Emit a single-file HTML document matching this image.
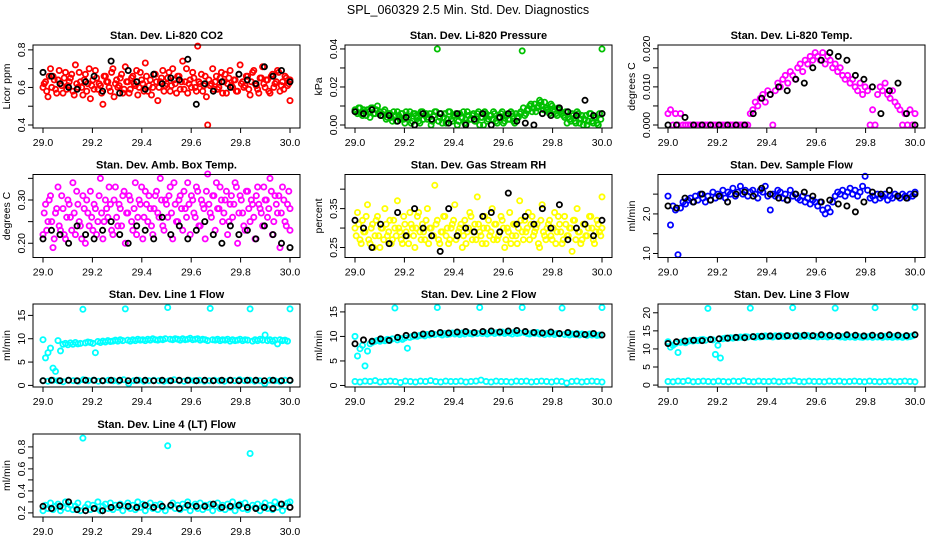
<!DOCTYPE html>
<html><head><meta charset="utf-8">
<style>
html,body{margin:0;padding:0;background:#fff;}
svg{display:block;font-family:"Liberation Sans",sans-serif;}
</style></head>
<body>
<svg id="chart" width="936" height="540" viewBox="0 0 936 540" xmlns="http://www.w3.org/2000/svg">
<rect width="936" height="540" fill="#fff"/>
<text x="468" y="14" text-anchor="middle" font-size="12.5">SPL_060329  2.5 Min. Std. Dev. Diagnostics</text>
</svg>
<script>
const xTicks = [29.0, 29.2, 29.4, 29.6, 29.8, 30.0];
const xTickLabels = ["29.0", "29.2", "29.4", "29.6", "29.8", "30.0"];

const co2Red = [0.60,0.63,0.55,0.70,0.66,0.59,0.64,0.62,0.57,0.68,0.61,0.65,0.58,0.72,0.60,0.63,0.56,0.67,0.62,0.54,0.64,0.69,0.59,0.61,0.51,0.66,0.63,0.58,0.70,0.62,0.60,0.65,0.57,0.71,0.63,0.59,0.66,0.61,0.56,0.68,0.62,0.73,0.58,0.64,0.60,0.67,0.53,0.63,0.69,0.61,0.65,0.58,0.70,0.62,0.66,0.59,0.74,0.63,0.57,0.64,0.68,0.60,0.82,0.62,0.58,0.66,0.40,0.61,0.70,0.63,0.59,0.65,0.57,0.67,0.62,0.69,0.60,0.64,0.58,0.72,0.63,0.61,0.66,0.56,0.68,0.62,0.59,0.65,0.71,0.60,0.64,0.57,0.67,0.62,0.69,0.58,0.63,0.66,0.61,0.53];
const co2Red2 = [0.62,0.58,0.66,0.60,0.64,0.57,0.69,0.61,0.65,0.59,0.63,0.67,0.56,0.62,0.68,0.60,0.64,0.58,0.70,0.61,0.59,0.65,0.62,0.57,0.66,0.63,0.60,0.68,0.55,0.64,0.61,0.67,0.59,0.63,0.57,0.65,0.62,0.69,0.60,0.64,0.58,0.66,0.61,0.56,0.67,0.63,0.60,0.65,0.58,0.62,0.68,0.61,0.64,0.57,0.66,0.63,0.59,0.70,0.62,0.60,0.65,0.58,0.63,0.67,0.61,0.55,0.64,0.62,0.59,0.66,0.60,0.68,0.63,0.57,0.65,0.61,0.64,0.58,0.67,0.62,0.60,0.66,0.59,0.63,0.69,0.61,0.57,0.65,0.62,0.64,0.58,0.66,0.60,0.63,0.68,0.61,0.59,0.65,0.62,0.64];
const co2Black = [0.68,0.66,0.62,0.60,0.59,0.63,0.66,0.58,0.74,0.57,0.69,0.63,0.59,0.67,0.62,0.65,0.64,0.75,0.51,0.62,0.58,0.63,0.60,0.67,0.64,0.62,0.71,0.66,0.69,0.63];

const presGreen = [0.008,0.006,0.009,0.005,0.007,0.008,0.004,0.009,0.006,0.010,0.007,0.005,0.008,0.004,0.006,0.002,0.005,0.007,0.003,0.006,0.001,0.005,0.007,0.002,0.006,0.004,0.001,0.007,0.005,0.003,0.006,0.002,0.007,0.040,0.004,0.001,0.006,0.003,0.007,0.002,0.005,0.000,0.006,0.004,0.001,0.007,0.003,0.005,0.002,0.006,0.000,0.004,0.007,0.002,0.005,0.003,0.006,0.001,0.004,0.007,0.002,0.005,0.003,0.006,0.001,0.004,0.006,0.039,0.005,0.008,0.010,0.007,0.011,0.009,0.013,0.010,0.012,0.008,0.006,0.010,0.007,0.005,0.008,0.006,0.004,0.001,0.003,0.006,0.002,0.007,0.001,0.005,0.003,0.000,0.006,0.002,0.004,0.001,0.006,0.040];
const presGreen2 = [0.007,0.009,0.006,0.008,0.005,0.007,0.009,0.006,0.008,0.006,0.005,0.007,0.003,0.006,0.004,0.007,0.002,0.005,0.006,0.003,0.007,0.004,0.001,0.006,0.005,0.002,0.007,0.003,0.006,0.004,0.000,0.005,0.007,0.002,0.006,0.004,0.001,0.007,0.003,0.005,0.006,0.002,0.004,0.007,0.001,0.005,0.003,0.006,0.002,0.007,0.004,0.000,0.006,0.003,0.005,0.007,0.002,0.004,0.006,0.001,0.005,0.003,0.007,0.002,0.006,0.004,0.007,0.009,0.006,0.008,0.011,0.009,0.007,0.010,0.012,0.008,0.009,0.007,0.011,0.008,0.006,0.009,0.007,0.005,0.007,0.004,0.002,0.005,0.001,0.006,0.003,0.000,0.005,0.002,0.006,0.001,0.004,0.000,0.003,0.006];
const presBlack = [0.007,0.006,0.008,0.005,0.005,0.002,0.004,0.000,0.006,0.003,0.006,0.001,0.006,0.000,0.003,0.006,0.000,0.004,0.006,0.002,0.001,0.000,0.006,0.005,0.009,0.007,0.005,0.013,0.005,0.006];

const tempMagenta = [0.003,0.004,0.000,0.003,0.000,0.003,0.000,0,0,0,0,0,0,0,0,0,0,0,0,0,0,0,0,0,0,0,0,0,0,0,0,0,0,0.003,0.004,0.006,0.005,0.007,0.008,0.006,0.009,0.008,0.000,0.009,0.011,0.010,0.012,0.013,0.011,0.014,0.013,0.012,0.015,0.016,0.014,0.017,0.016,0.018,0.017,0.019,0.018,0.017,0.019,0.016,0.018,0.017,0.015,0.016,0.014,0.015,0.013,0.012,0.013,0.011,0.012,0.010,0.009,0.011,0.008,0.010,0.009,0.000,0.004,0.000,0.008,0.010,0.009,0.011,0.008,0.007,0.009,0.006,0.005,0.004,0.000,0.003,0.000,0.004,0.000,0.003];
const tempBlack = [0.000,0.000,0.002,0.000,0.000,0.000,0.000,0.000,0.000,0.000,0.003,0.007,0.008,0.010,0.009,0.012,0.011,0.015,0.017,0.019,0.018,0.017,0.013,0.012,0.010,0.003,0.009,0.011,0.003,0.000];

const ambMagenta = [0.22,0.29,0.25,0.31,0.19,0.27,0.33,0.23,0.28,0.21,0.30,0.26,0.34,0.22,0.29,0.24,0.31,0.20,0.27,0.32,0.23,0.28,0.25,0.35,0.21,0.30,0.26,0.29,0.22,0.33,0.24,0.28,0.31,0.20,0.27,0.30,0.23,0.34,0.26,0.29,0.21,0.32,0.25,0.28,0.22,0.31,0.27,0.35,0.24,0.30,0.26,0.33,0.21,0.29,0.25,0.31,0.23,0.28,0.34,0.22,0.30,0.26,0.32,0.24,0.29,0.21,0.36,0.27,0.31,0.23,0.28,0.33,0.25,0.30,0.22,0.29,0.26,0.34,0.20,0.31,0.27,0.23,0.32,0.25,0.29,0.21,0.33,0.28,0.24,0.30,0.26,0.35,0.22,0.31,0.27,0.19,0.33,0.25,0.29,0.23];
const ambMagenta2 = [0.27,0.23,0.30,0.25,0.21,0.28,0.24,0.31,0.22,0.26,0.29,0.23,0.27,0.32,0.25,0.21,0.28,0.30,0.24,0.26,0.29,0.22,0.31,0.27,0.25,0.28,0.33,0.23,0.30,0.26,0.29,0.24,0.32,0.27,0.31,0.25,0.28,0.22,0.30,0.33,0.26,0.29,0.31,0.24,0.28,0.32,0.26,0.30,0.23,0.29,0.31,0.27,0.34,0.25,0.30,0.28,0.32,0.26,0.29,0.31,0.27,0.33,0.24,0.30,0.28,0.32,0.29,0.26,0.31,0.34,0.28,0.30,0.27,0.32,0.25,0.31,0.29,0.33,0.27,0.30,0.24,0.32,0.28,0.30,0.26,0.31,0.29,0.27,0.33,0.30,0.28,0.32,0.25,0.29,0.31,0.27,0.30,0.24,0.32,0.28];
const ambBlack = [0.21,0.23,0.22,0.20,0.24,0.22,0.21,0.23,0.25,0.22,0.20,0.24,0.23,0.21,0.26,0.22,0.24,0.21,0.23,0.25,0.22,0.20,0.24,0.22,0.23,0.21,0.24,0.22,0.20,0.19];

const rhYellow = [0.30,0.34,0.27,0.32,0.29,0.36,0.26,0.31,0.28,0.33,0.25,0.30,0.35,0.28,0.32,0.27,0.30,0.37,0.29,0.26,0.31,0.28,0.34,0.30,0.25,0.33,0.29,0.31,0.27,0.35,0.30,0.28,0.41,0.32,0.26,0.29,0.33,0.30,0.27,0.31,0.36,0.28,0.30,0.25,0.32,0.29,0.34,0.27,0.31,0.38,0.29,0.26,0.33,0.30,0.28,0.35,0.31,0.27,0.29,0.32,0.25,0.30,0.34,0.28,0.31,0.26,0.37,0.29,0.32,0.30,0.27,0.33,0.29,0.31,0.25,0.36,0.28,0.30,0.32,0.27,0.34,0.29,0.31,0.26,0.33,0.28,0.30,0.24,0.32,0.35,0.29,0.27,0.31,0.28,0.33,0.30,0.26,0.32,0.29,0.38];
const rhYellow2 = [0.28,0.31,0.26,0.29,0.33,0.27,0.30,0.25,0.32,0.28,0.30,0.27,0.31,0.29,0.26,0.32,0.28,0.30,0.27,0.33,0.29,0.26,0.31,0.28,0.30,0.34,0.27,0.29,0.32,0.26,0.30,0.28,0.31,0.27,0.29,0.33,0.28,0.26,0.30,0.32,0.27,0.29,0.31,0.28,0.26,0.30,0.33,0.29,0.27,0.31,0.28,0.30,0.26,0.32,0.29,0.27,0.31,0.28,0.33,0.30,0.27,0.29,0.26,0.31,0.28,0.30,0.32,0.27,0.29,0.34,0.31,0.28,0.30,0.26,0.32,0.29,0.27,0.31,0.28,0.30,0.26,0.33,0.29,0.27,0.31,0.28,0.30,0.32,0.27,0.29,0.26,0.31,0.28,0.30,0.33,0.27,0.29,0.31,0.28,0.30];
const rhBlack = [0.32,0.30,0.25,0.31,0.26,0.34,0.28,0.35,0.30,0.28,0.24,0.35,0.28,0.30,0.29,0.33,0.34,0.29,0.39,0.31,0.33,0.31,0.35,0.30,0.36,0.27,0.30,0.31,0.28,0.32];

const flowBlue = [2.45,1.72,2.2,2.1,0.97,2.15,2.3,2.25,2.35,2.4,2.3,2.45,2.35,2.5,2.4,2.3,2.45,2.35,2.55,2.4,2.5,2.45,2.6,2.4,2.55,2.5,2.65,2.45,2.55,2.7,2.5,2.6,2.45,2.55,2.6,2.5,2.4,2.6,2.55,2.7,2.45,2.1,2.5,2.45,2.6,2.55,2.4,2.5,2.35,2.6,2.45,2.5,2.4,2.35,2.45,2.3,2.4,2.25,2.35,2.3,2.2,2.3,2.1,2.0,2.15,2.05,2.3,2.45,2.55,2.5,2.6,2.45,2.55,2.65,2.5,2.6,2.45,2.55,2.7,2.95,2.6,2.4,2.45,2.35,2.5,2.4,2.45,2.5,2.35,2.45,2.4,2.5,2.45,2.4,2.5,2.45,2.4,2.5,2.45,2.55];
const flowBlack = [2.2,2.15,2.4,2.3,2.5,2.35,2.45,2.3,2.5,2.55,2.45,2.65,2.5,2.4,2.35,2.5,2.55,2.45,2.3,2.35,2.25,2.2,2.05,2.3,2.55,2.5,2.6,2.45,2.4,2.5];

const line1Upper = [9.8,5.9,7.0,8.0,3.7,3.0,9.6,7.4,8.8,9.0,8.7,9.1,8.8,9.2,8.9,9.0,16.3,9.1,9.3,9.2,9.0,7.0,9.4,9.2,9.5,9.3,9.6,9.4,9.5,9.7,9.5,9.8,9.6,16.4,9.7,9.5,9.8,9.6,9.9,9.7,9.8,9.6,9.9,9.7,10.0,9.8,9.7,9.9,9.8,10.0,16.7,9.9,9.8,10.0,9.9,9.7,10.0,9.8,9.9,10.1,9.8,9.9,10.0,9.7,9.9,9.8,9.6,16.5,9.8,9.7,9.9,9.6,9.8,9.7,9.9,9.5,9.8,9.6,9.7,9.9,9.6,9.8,9.7,16.4,9.5,9.8,9.6,9.9,9.7,10.8,9.6,9.8,9.5,9.7,8.9,9.8,9.6,9.7,9.5,16.4];
const line1Lower = [1.0,0.9,1.1,1.0,0.8,1.1,1.0,0.9,1.2,1.0,1.1,0.9,1.0,1.1,1.0,0.9,1.2,0.4,1.0,1.1,0.9,1.0,1.1,1.0,0.9,1.0,1.2,1.0,0.9,1.1,1.0,1.1,0.9,1.0,1.1,1.0,0.9,1.1,1.0,1.2,1.0,1.1,0.9,1.0,0.4,1.1,1.0,0.9,1.1,1.0];
const line1Black = [1.0,1.1,1.0,1.1,1.0,1.1,1.1,1.0,1.1,1.1,1.0,1.1,1.1,1.0,1.1,1.0,1.1,1.1,1.0,1.1,1.0,1.1,1.1,1.0,1.1,1.1,1.0,1.1,1.0,1.1];

const line2Upper = [10.0,6.0,7.5,8.2,4.0,7.0,8.5,8.8,9.0,9.2,9.0,9.3,9.1,9.4,9.2,9.5,15.8,9.3,9.6,9.4,9.7,7.6,9.8,10.0,10.1,10.0,10.2,10.3,10.1,10.4,10.3,10.5,10.4,15.9,10.5,10.3,10.6,10.4,10.5,10.7,10.5,10.6,10.4,10.7,10.5,10.8,10.6,10.5,10.7,10.6,15.9,10.6,10.8,10.5,10.7,10.9,10.6,10.8,10.7,10.9,10.6,10.8,10.7,10.5,10.9,10.6,10.7,15.9,10.8,10.6,10.5,10.7,10.6,10.8,10.5,10.7,10.4,10.6,10.5,10.7,10.4,10.6,10.5,15.8,10.4,10.6,10.3,10.5,10.4,10.6,10.3,10.5,10.4,10.2,10.5,10.3,10.4,10.2,10.3,15.9];
const line2Lower = [0.8,0.7,0.9,0.8,1.0,0.7,0.8,0.9,0.8,0.6,0.9,0.8,0.7,0.9,0.8,1.0,0.8,0.7,0.9,0.8,0.8,0.9,0.7,0.8,0.9,1.1,0.8,0.7,0.9,0.8,0.8,0.7,0.9,0.8,0.9,0.7,0.8,0.9,0.8,0.7,0.9,0.8,0.5,0.8,0.9,0.7,0.8,0.9,0.8,0.7];
const line2Black = [8.5,9.3,9.0,9.5,9.2,9.8,10.2,10.3,10.5,10.6,10.8,10.7,10.9,11.0,10.8,11.0,11.1,10.9,11.1,11.2,11.0,10.8,10.7,10.9,10.6,10.8,10.5,10.4,10.6,10.3];

const line3Upper = [12.0,10.5,11.0,11.5,9.0,11.8,12.0,11.7,12.1,12.3,12.2,12.4,12.3,12.5,12.6,12.4,21.2,12.7,12.5,8.5,11.0,7.5,12.8,13.0,12.9,13.1,13.0,13.2,13.1,13.3,13.2,13.4,13.3,21.3,13.4,13.2,13.5,13.3,13.4,13.6,13.4,13.5,13.3,13.6,13.4,13.7,13.5,13.4,13.6,13.5,21.4,13.5,13.7,13.4,13.6,13.5,13.7,13.4,13.6,13.5,13.3,13.6,13.4,13.5,13.3,13.6,13.4,21.3,13.5,13.3,13.4,13.2,13.5,13.3,13.4,13.2,13.5,13.3,13.2,13.4,13.3,13.5,13.2,21.4,13.3,13.4,13.2,13.5,13.3,13.4,13.2,13.5,13.3,13.4,13.2,13.5,13.3,13.4,13.6,21.5];
const line3Lower = [1.0,0.9,1.1,1.0,1.2,0.9,1.0,1.1,1.0,0.9,1.1,1.0,0.9,1.1,1.0,1.2,1.0,0.9,1.1,1.0,1.0,1.1,0.9,1.0,1.1,1.2,1.0,0.9,1.1,1.0,1.0,0.9,1.1,1.0,1.1,0.9,1.0,1.1,1.0,0.9,1.1,1.0,0.9,1.0,1.1,0.9,1.0,1.1,1.0,0.9];
const line3Black = [11.5,12.0,12.2,12.4,12.3,12.6,12.8,13.0,13.2,13.1,13.4,13.5,13.6,13.5,13.7,13.6,13.8,13.7,13.9,13.8,13.7,13.9,13.8,13.6,13.8,13.7,13.9,13.8,13.7,13.9];

const line4Cyan = [0.22,0.27,0.24,0.29,0.23,0.26,0.28,0.22,0.25,0.30,0.24,0.27,0.23,0.26,0.29,0.22,0.88,0.25,0.28,0.23,0.27,0.24,0.30,0.22,0.26,0.28,0.24,0.29,0.23,0.27,0.25,0.28,0.22,0.26,0.29,0.24,0.27,0.23,0.30,0.25,0.28,0.22,0.26,0.29,0.24,0.27,0.23,0.28,0.25,0.22,0.81,0.26,0.29,0.24,0.27,0.23,0.28,0.25,0.30,0.22,0.26,0.28,0.24,0.29,0.23,0.27,0.25,0.28,0.22,0.26,0.29,0.24,0.27,0.23,0.28,0.25,0.30,0.22,0.26,0.28,0.24,0.29,0.23,0.74,0.27,0.25,0.28,0.22,0.26,0.29,0.24,0.27,0.23,0.30,0.25,0.28,0.22,0.26,0.29,0.30];
const line4Black = [0.26,0.24,0.26,0.30,0.23,0.22,0.24,0.22,0.25,0.27,0.26,0.25,0.27,0.25,0.26,0.27,0.24,0.27,0.26,0.26,0.28,0.25,0.26,0.27,0.25,0.24,0.25,0.24,0.28,0.25];

const svg = document.getElementById('chart');
const NS = 'http://www.w3.org/2000/svg';
function mk(tag, attrs, parent) {
  const e = document.createElementNS(NS, tag);
  for (const k in attrs) e.setAttribute(k, attrs[k]);
  parent.appendChild(e);
  return e;
}

const colX = [33, 345, 658];
const rowY = [45, 174.5, 304, 434];
const W = 267, H = 83;

const panels = [
  {title:'Stan. Dev. Li-820 CO2', ylab:'Licor ppm', c:0, r:0, lo:0.4, hi:0.81, ticks:[0.4,0.5,0.6,0.7,0.8], labels:{0.4:'0.4',0.6:'0.6',0.8:'0.8'}, series:[[co2Red,'#ff0000'],[co2Red2,'#ff0000'],[co2Black,'#000']]},
  {title:'Stan. Dev. Li-820 Pressure', ylab:'kPa', c:1, r:0, lo:0, hi:0.0405, ticks:[0,0.01,0.02,0.03,0.04], labels:{0:'0.00',0.02:'0.02',0.04:'0.04'}, series:[[presGreen,'#00c000'],[presGreen2,'#00c000'],[presBlack,'#000']]},
  {title:'Stan. Dev. Li-820 Temp.', ylab:'degrees C', c:2, r:0, lo:0, hi:0.0202, ticks:[0,0.005,0.01,0.015,0.02], labels:{0:'0.000',0.01:'0.010',0.02:'0.020'}, series:[[tempMagenta,'#ff00ff'],[tempBlack,'#000']]},
  {title:'Stan. Dev. Amb. Box Temp.', ylab:'degrees C', c:0, r:1, lo:0.174, hi:0.352, ticks:[0.2,0.25,0.3,0.35], labels:{0.2:'0.20',0.3:'0.30'}, series:[[ambMagenta,'#ff00ff'],[ambMagenta2,'#ff00ff'],[ambBlack,'#000']]},
  {title:'Stan. Dev. Gas Stream RH', ylab:'percent', c:1, r:1, lo:0.232, hi:0.43, ticks:[0.25,0.3,0.35,0.4], labels:{0.25:'0.25',0.35:'0.35'}, series:[[rhYellow,'#ffff00'],[rhYellow2,'#ffff00'],[rhBlack,'#000']]},
  {title:'Stan. Dev. Sample Flow', ylab:'ml/min', c:2, r:1, lo:0.975, hi:2.92, ticks:[1,1.5,2,2.5], labels:{1:'1.0',2:'2.0'}, series:[[flowBlue,'#0000ff'],[flowBlack,'#000']]},
  {title:'Stan. Dev. Line 1 Flow', ylab:'ml/min', c:0, r:2, lo:0.3, hi:16.8, ticks:[0,5,10,15], labels:{0:'0',5:'5',10:'10',15:'15'}, series:[[line1Upper,'#00ffff'],[line1Lower,'#00ffff'],[line1Black,'#000']]},
  {title:'Stan. Dev. Line 2 Flow', ylab:'ml/min', c:1, r:2, lo:0.3, hi:16.0, ticks:[0,5,10,15], labels:{0:'0',5:'5',10:'10',15:'15'}, series:[[line2Upper,'#00ffff'],[line2Lower,'#00ffff'],[line2Black,'#000']]},
  {title:'Stan. Dev. Line 3 Flow', ylab:'ml/min', c:2, r:2, lo:0.3, hi:21.6, ticks:[0,5,10,15,20], labels:{0:'0',5:'5',10:'10',15:'15',20:'20'}, series:[[line3Upper,'#00ffff'],[line3Lower,'#00ffff'],[line3Black,'#000']]},
  {title:'Stan. Dev. Line 4 (LT) Flow', ylab:'ml/min', c:0, r:3, lo:0.19, hi:0.89, ticks:[0.2,0.3,0.4,0.5,0.6,0.7,0.8], labels:{0.2:'0.2',0.4:'0.4',0.6:'0.6',0.8:'0.8'}, series:[[line4Cyan,'#00ffff'],[line4Black,'#000']]}
];

panels.forEach(function(p, pi) {
  const L = colX[p.c], T = rowY[p.r], R = L + W, B = T + H;
  const g = mk('g', {}, svg);
  
  
  const xs = function(v) { return L + 10 + (v - 29) * 247; };
  const ys = function(v) { return (B - 3) - (v - p.lo) / (p.hi - p.lo) * (H - 6); };

  const t = mk('text', {x: (L + R) / 2, y: T - 6, 'text-anchor': 'middle', 'font-size': 11, 'font-weight': 'bold'}, g);
  t.textContent = p.title;
  
  

  const yl = mk('text', {x: 0, y: 0, 'text-anchor': 'middle', 'font-size': 10.5, transform: 'translate(' + (L - 23) + ',' + ((T + B) / 2) + ') rotate(-90)'}, g);
  yl.textContent = p.ylab;
  
  

  p.series.forEach(function(s, si) {
    const vals = s[0], col = s[1];
    const n = vals.length;
    const offset = (si === 1 && col !== '#000' && n > 60) ? 0.5 / (n - 1) : 0;
    const sg = mk('g', {fill: 'none', stroke: col, 'stroke-width': 1.8}, g);
    
    
    vals.forEach(function(v, i) {
      const xv = Math.min(30, 29 + i / (n - 1) + offset);
      const c = mk('circle', {cx: xs(xv).toFixed(1), cy: ys(v).toFixed(1), r: 2.6}, sg);
      
      
    });
  });

  const box = mk('rect', {x: L, y: T, width: W, height: H, fill: 'none', stroke: '#000', 'stroke-width': 1}, g);
  
  

  xTicks.forEach(function(v, i) {
    const x = xs(v);
    mk('line', {x1: x, x2: x, y1: B, y2: B + 5, stroke: '#000'}, g);
    const tl = mk('text', {x: x, y: B + 18, 'text-anchor': 'middle', 'font-size': 10.5}, g);
    tl.textContent = xTickLabels[i];
    
    
  });
  p.ticks.forEach(function(v) {
    const y = ys(v);
    mk('line', {x1: L - 5, x2: L, y1: y, y2: y, stroke: '#000'}, g);
    if (p.labels[v] !== undefined) {
      const tl = mk('text', {x: 0, y: 0, 'text-anchor': 'middle', 'font-size': 10.5, transform: 'translate(' + (L - 8) + ',' + y + ') rotate(-90)'}, g);
      tl.textContent = p.labels[v];
      
      
    }
  });
});
</script>
</body></html>
